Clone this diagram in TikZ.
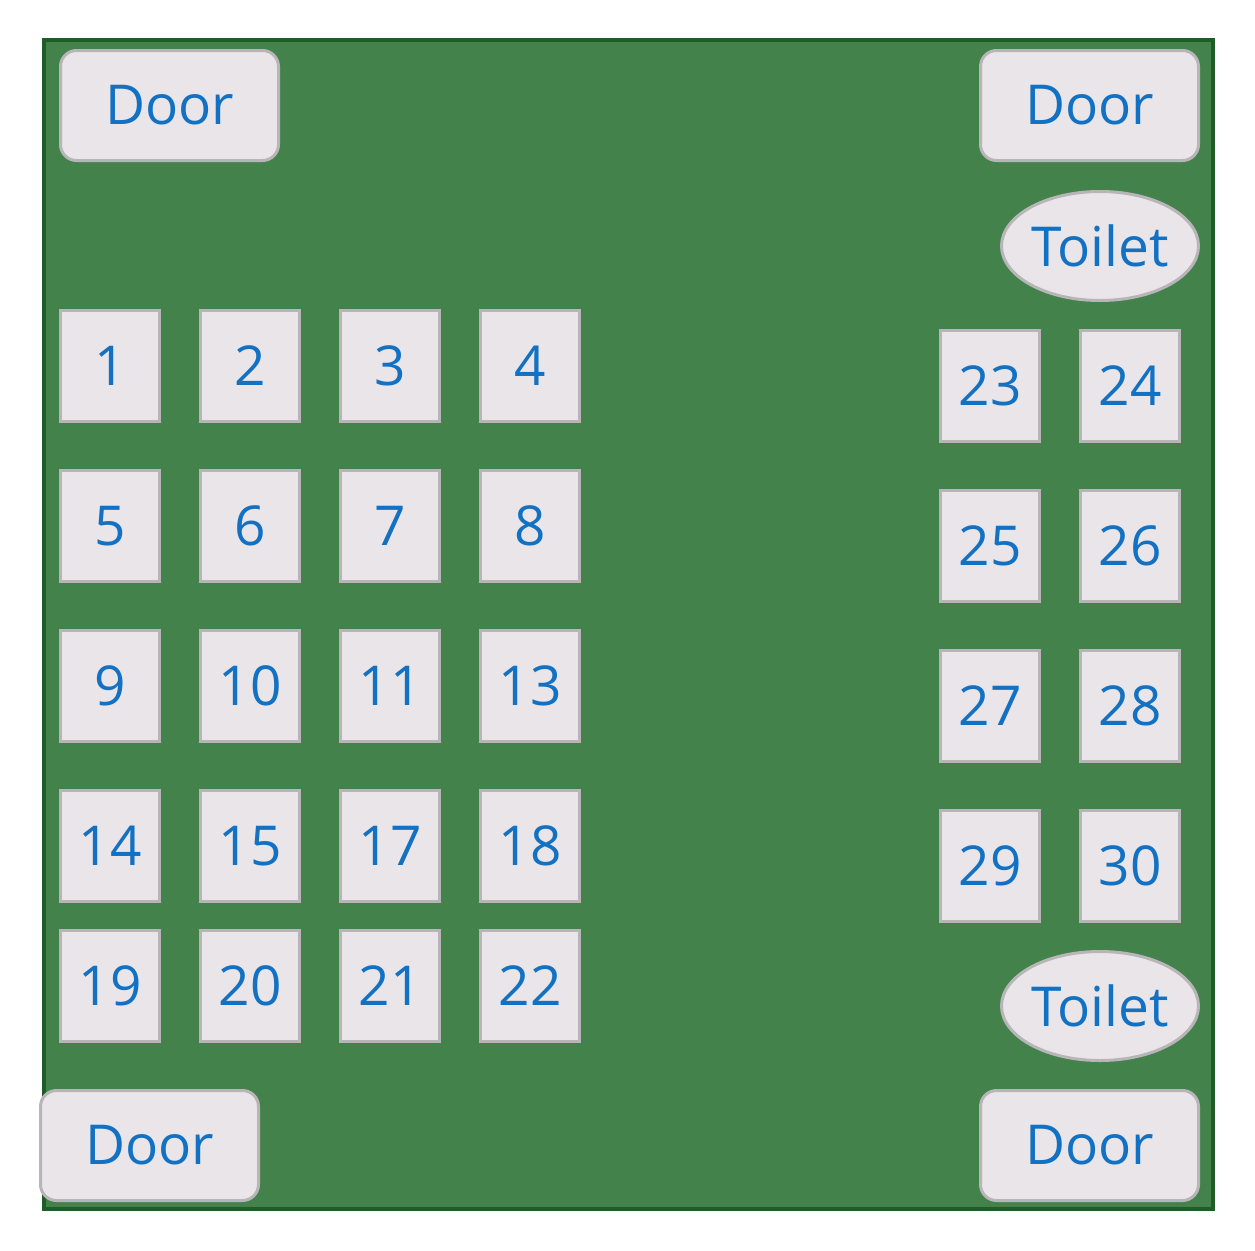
\documentclass[tikz,border=0pt]{standalone}
\usepackage{fontspec}
\setmainfont{Open Sans}
\usepackage{xcolor}
\usepackage{tikz}
\usetikzlibrary{shapes.geometric, positioning}
\definecolor{floor}{RGB}{67,131,75}
\definecolor{floorline}{RGB}{32,92,40}
\definecolor{panel}{RGB}{233,229,233}
\definecolor{panelline}{RGB}{183,181,183}
\definecolor{label}{RGB}{18,113,194}
\tikzset{
    room/.style={rectangle, draw=floorline, fill=floor, line width=3.5pt},
    seat/.style={rectangle, draw=panelline, fill=panel, line width=3pt, minimum width=99pt, minimum height=111pt, text=label, font=\fontsize{55}{60}\selectfont, inner sep=0pt},
    door/.style={rectangle, rounded corners=16pt, draw=panelline, fill=panel, line width=3pt, minimum width=218pt, minimum height=110pt, text=label, font=\fontsize{55}{60}\selectfont, inner sep=0pt},
    toilet/.style={ellipse, draw=panelline, fill=panel, line width=3pt, minimum width=197pt, minimum height=109pt, text=label, font=\fontsize{55}{60}\selectfont, inner xsep=-20pt, inner ysep=0pt}
}
\begin{document}
\begin{tikzpicture}[x=1pt, y=-1pt]
    \useasboundingbox (0,0) rectangle (1255,1250);
    % Floor
    \node[room, minimum width=1169pt, minimum height=1169pt] (floor) at (628.5,624.5) {};

    % Doors
    \node[door] (door_tl) at (169.5,105.5) {Door};
    \node[door] (door_tr) at (1089.5,105.5) {Door};
    \node[door] (door_bl) at (149.5,1145.5) {Door};
    \node[door] (door_br) at (1089.5,1145.5) {Door};

    % Toilets
    \node[toilet] (toilet_top) at (1100,246) {Toilet};
    \node[toilet] (toilet_bottom) at (1100,1006) {Toilet};

    % Left block of seats
    \node[seat] (seat1) at (110,366) {1};
    \node[seat] (seat2) at (250,366) {2};
    \node[seat] (seat3) at (390,366) {3};
    \node[seat] (seat4) at (530,366) {4};

    \node[seat] (seat5) at (110,526) {5};
    \node[seat] (seat6) at (250,526) {6};
    \node[seat] (seat7) at (390,526) {7};
    \node[seat] (seat8) at (530,526) {8};

    \node[seat] (seat9) at (110,686) {9};
    \node[seat] (seat10) at (250,686) {10};
    \node[seat] (seat11) at (390,686) {11};
    \node[seat] (seat13) at (530,686) {13};

    \node[seat] (seat14) at (110,846) {14};
    \node[seat] (seat15) at (250,846) {15};
    \node[seat] (seat17) at (390,846) {17};
    \node[seat] (seat18) at (530,846) {18};

    \node[seat] (seat19) at (110,986) {19};
    \node[seat] (seat20) at (250,986) {20};
    \node[seat] (seat21) at (390,986) {21};
    \node[seat] (seat22) at (530,986) {22};

    % Right block of seats
    \node[seat] (seat23) at (990,386) {23};
    \node[seat] (seat24) at (1130,386) {24};
    \node[seat] (seat25) at (990,546) {25};
    \node[seat] (seat26) at (1130,546) {26};
    \node[seat] (seat27) at (990,706) {27};
    \node[seat] (seat28) at (1130,706) {28};
    \node[seat] (seat29) at (990,866) {29};
    \node[seat] (seat30) at (1130,866) {30};
\end{tikzpicture}
\end{document}
